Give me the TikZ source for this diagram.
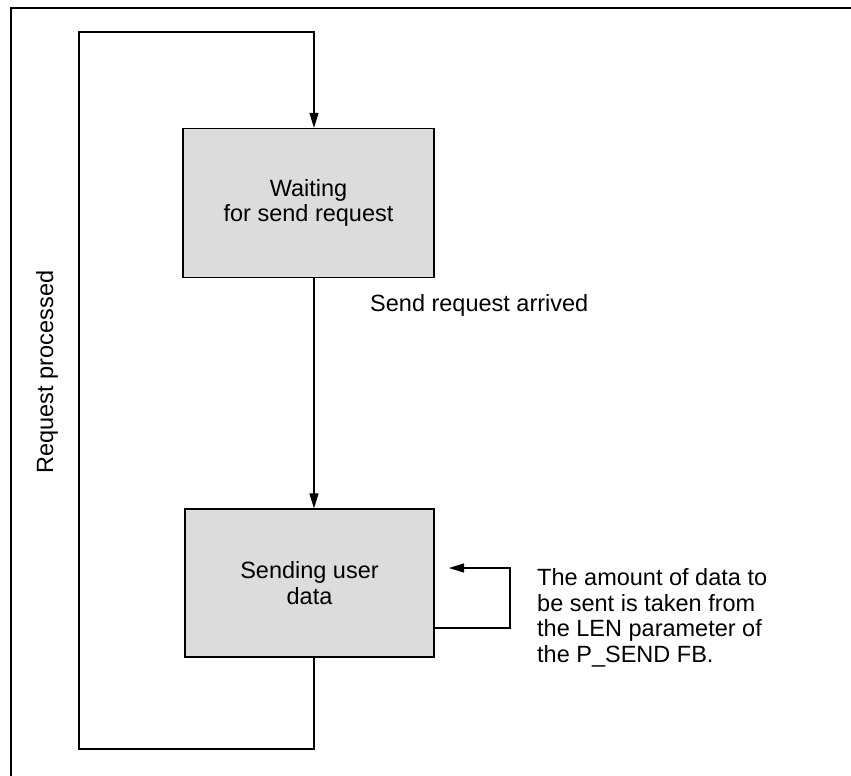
\documentclass[tikz,border=0pt]{standalone}
\usepackage{fontspec}
\setmainfont{Liberation Sans}
\usetikzlibrary{arrows.meta}
\definecolor{boxgray}{RGB}{220,220,220}

\begin{document}
\begin{tikzpicture}[x=1pt, y=-1pt]
            \tikzstyle{every node}=[font=\fontsize{23.5}{25.5}\selectfont, text=black, inner sep=0pt]
            \tikzstyle{state}=[draw=black, fill=boxgray, line width=1.2pt, align=center]
            \tikzstyle{edge}=[black, line width=1.2pt]
            \tikzstyle{flow}=[edge, -{Triangle[length=15pt, width=9pt]}]

            \useasboundingbox (0,0) rectangle (851,776);
            \draw[edge] (11,776) |- (851,8);

            \node[state, minimum width=251pt, minimum height=149pt] (wait) at (308.5,203) {Waiting\\for send request};
            \node[state, minimum width=249pt, minimum height=148pt] (send) at (309.5,583) {Sending user\\data};

            \node[anchor=west] (arrived) at (370,305) {Send request arrived};
            \node[rotate=90] (processed) at (47,372) {Request processed};
            \node[anchor=west, align=left] (amount) at (537,618) {The amount of data to\\be sent is taken from\\the LEN parameter of\\the P\_SEND FB.};

            \coordinate (bot) at (314,749);
            \coordinate (top) at (79,32);
            \coordinate (selfr) at (510,568);
            \coordinate (selfend) at (449,568);

            \draw[flow] (wait.south -| bot) -- (send.north -| bot);
            \draw[flow] (send.south -| bot) -- (bot) -| (top) -| (wait.north -| bot);
            \draw[flow] (send.east) ++(0,45) -| (selfr) -- (selfend);
\end{tikzpicture}
\end{document}
